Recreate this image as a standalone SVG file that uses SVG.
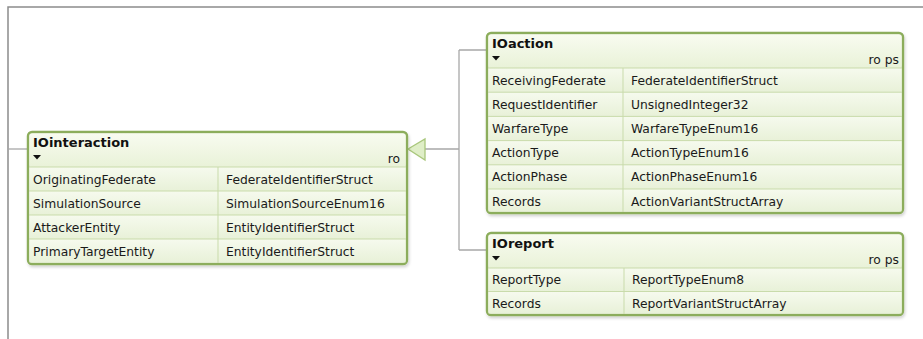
<svg xmlns="http://www.w3.org/2000/svg" width="923" height="339" viewBox="0 0 923 339">
<style>
.frame{fill:none;stroke:#8c8c8c;stroke-width:1.5}
.conn{fill:none;stroke:#a8a8a8;stroke-width:1.3}
.box{fill:#eef5e1;stroke:#8cad5b;stroke-width:2.4}
.hdr{fill:url(#hg)}
.sep{stroke:#c9dbab;stroke-width:1}
.row{fill:url(#rg)}
.title{font-family:"DejaVu Sans",sans-serif;font-weight:bold;font-size:13px;fill:#111}
.t{font-family:"DejaVu Sans",sans-serif;font-size:12.3px;fill:#1a1a1a}
.st{font-family:"DejaVu Sans",sans-serif;font-size:12.3px;fill:#1a1a1a;text-anchor:end}
</style>
<defs>
<linearGradient id="hg" x1="0" y1="0" x2="0" y2="1">
<stop offset="0" stop-color="#f8fbf0"/>
<stop offset="1" stop-color="#e9f2d8"/>
</linearGradient>
<linearGradient id="rg" x1="0" y1="0" x2="0" y2="1">
<stop offset="0" stop-color="#f6faee"/>
<stop offset="1" stop-color="#e8f1d8"/>
</linearGradient>
<filter id="sh" x="-5%" y="-5%" width="110%" height="115%">
<feDropShadow dx="1" dy="2" stdDeviation="1.5" flood-color="#000" flood-opacity="0.18"/>
</filter>
<path id="tri" d="M0,0 L8,0 L4,4.5 Z" fill="#111"/>
</defs>
<rect width="923" height="339" fill="#fff"/>
<path class="frame" d="M8,339 L8,7 L923,7"/>
<g id="connectors">
<line class="conn" x1="8" y1="149" x2="28" y2="149"/>
<path class="conn" d="M425,149 L459,149 M459,50 L459,250 M459,50 L487,50 M459,250 L487,250"/>
<polygon points="408,149 425,139 425,160" fill="#dfeec7" stroke="#a9c77c" stroke-width="1.3"/>
</g>
<g id="IOinteraction">
<rect class="box" x="28" y="132" width="379" height="132" rx="4" filter="url(#sh)"/>
<rect class="hdr" x="29.5" y="133.5" width="376" height="33.5" rx="3"/>
<rect class="row" x="29.5" y="167" width="376" height="24"/>
<rect class="row" x="29.5" y="191" width="376" height="24"/>
<rect class="row" x="29.5" y="215" width="376" height="24"/>
<rect class="row" x="29.5" y="239" width="376" height="23.5"/>
<line class="sep" x1="29" y1="167" x2="406" y2="167"/>
<line class="sep" x1="29" y1="191" x2="406" y2="191"/>
<line class="sep" x1="29" y1="215" x2="406" y2="215"/>
<line class="sep" x1="29" y1="239" x2="406" y2="239"/>
<line class="sep" x1="218" y1="167" x2="218" y2="263"/>
<text class="title" x="33" y="147">IOinteraction</text>
<use href="#tri" x="33" y="155"/>
<text class="st" x="400" y="163">ro</text>
<text class="t" x="33" y="183.5">OriginatingFederate</text>
<text class="t" x="226" y="183.5">FederateIdentifierStruct</text>
<text class="t" x="33" y="207.5">SimulationSource</text>
<text class="t" x="226" y="207.5">SimulationSourceEnum16</text>
<text class="t" x="33" y="231.5">AttackerEntity</text>
<text class="t" x="226" y="231.5">EntityIdentifierStruct</text>
<text class="t" x="33" y="255.5">PrimaryTargetEntity</text>
<text class="t" x="226" y="255.5">EntityIdentifierStruct</text>
</g>
<g id="IOaction">
<rect class="box" x="487" y="33" width="416" height="180" rx="4" filter="url(#sh)"/>
<rect class="hdr" x="488.5" y="34.5" width="413" height="33.5" rx="3"/>
<rect class="row" x="488.5" y="68" width="413" height="24.2"/>
<rect class="row" x="488.5" y="92.2" width="413" height="24.2"/>
<rect class="row" x="488.5" y="116.4" width="413" height="24.2"/>
<rect class="row" x="488.5" y="140.6" width="413" height="24.2"/>
<rect class="row" x="488.5" y="164.8" width="413" height="24.2"/>
<rect class="row" x="488.5" y="189" width="413" height="22.5"/>
<line class="sep" x1="488" y1="68" x2="902" y2="68"/>
<line class="sep" x1="488" y1="92.2" x2="902" y2="92.2"/>
<line class="sep" x1="488" y1="116.4" x2="902" y2="116.4"/>
<line class="sep" x1="488" y1="140.6" x2="902" y2="140.6"/>
<line class="sep" x1="488" y1="164.8" x2="902" y2="164.8"/>
<line class="sep" x1="488" y1="189" x2="902" y2="189"/>
<line class="sep" x1="623" y1="68" x2="623" y2="212"/>
<text class="title" x="492" y="48">IOaction</text>
<use href="#tri" x="492" y="56"/>
<text class="st" x="899" y="64">ro ps</text>
<text class="t" x="492" y="84.5">ReceivingFederate</text>
<text class="t" x="631" y="84.5">FederateIdentifierStruct</text>
<text class="t" x="492" y="108.7">RequestIdentifier</text>
<text class="t" x="631" y="108.7">UnsignedInteger32</text>
<text class="t" x="492" y="132.9">WarfareType</text>
<text class="t" x="631" y="132.9">WarfareTypeEnum16</text>
<text class="t" x="492" y="157.1">ActionType</text>
<text class="t" x="631" y="157.1">ActionTypeEnum16</text>
<text class="t" x="492" y="181.3">ActionPhase</text>
<text class="t" x="631" y="181.3">ActionPhaseEnum16</text>
<text class="t" x="492" y="205.5">Records</text>
<text class="t" x="631" y="205.5">ActionVariantStructArray</text>
</g>
<g id="IOreport">
<rect class="box" x="487" y="233" width="416" height="82" rx="4" filter="url(#sh)"/>
<rect class="hdr" x="488.5" y="234.5" width="413" height="33.5" rx="3"/>
<rect class="row" x="488.5" y="268" width="413" height="23.5"/>
<rect class="row" x="488.5" y="291.5" width="413" height="22"/>
<line class="sep" x1="488" y1="268" x2="902" y2="268"/>
<line class="sep" x1="488" y1="291.5" x2="902" y2="291.5"/>
<line class="sep" x1="624" y1="268" x2="624" y2="314"/>
<text class="title" x="492" y="248">IOreport</text>
<use href="#tri" x="492" y="256"/>
<text class="st" x="899" y="264">ro ps</text>
<text class="t" x="492" y="284">ReportType</text>
<text class="t" x="632" y="284">ReportTypeEnum8</text>
<text class="t" x="492" y="307.5">Records</text>
<text class="t" x="632" y="307.5">ReportVariantStructArray</text>
</g>
</svg>
